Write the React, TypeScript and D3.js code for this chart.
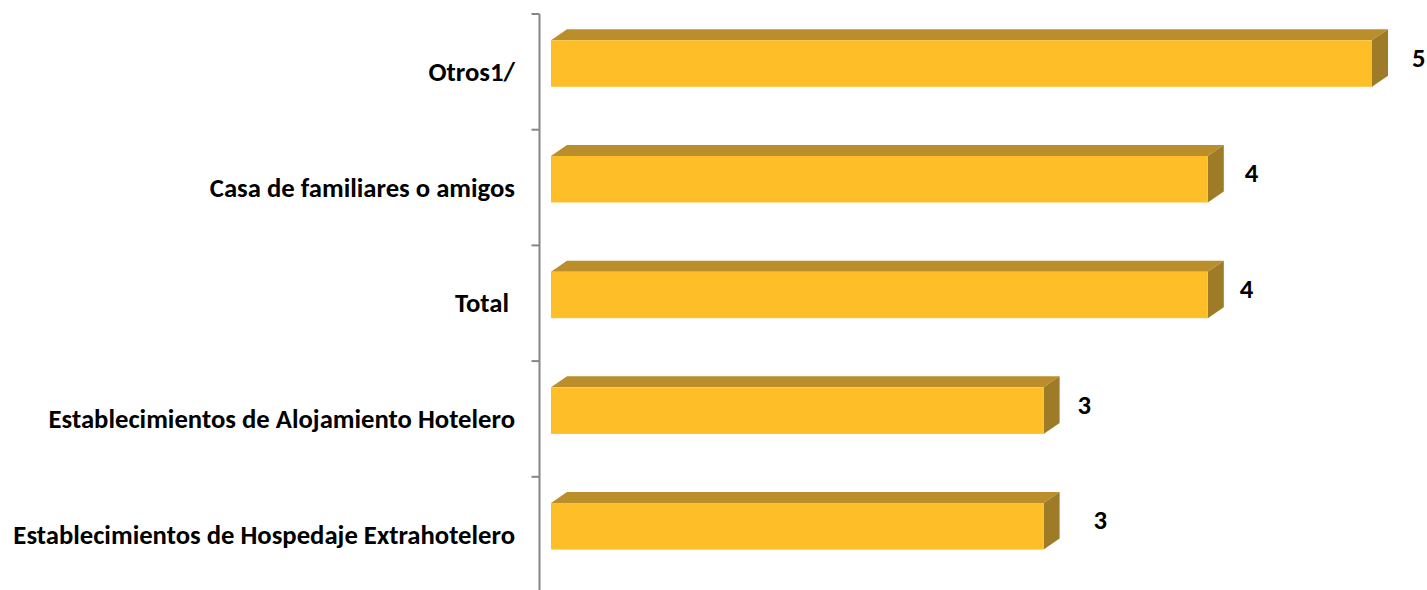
import React from "react";
import * as d3 from "d3";

const categories = [
  "Otros1/",
  "Casa de familiares o amigos",
  "Total ",
  "Establecimientos de Alojamiento Hotelero",
  "Establecimientos de Hospedaje Extrahotelero",
];
const values = [5, 4, 4, 3, 3];
const valueLabels = ["5", "4", "4", "3", "3"];

// layout nudges for the value labels (as placed in the original)
const labelDx = [24, 21, 16, 18, 34];

const W = 1427;
const H = 590;
const FONT = "Carlito, Calibri, 'Open Sans', sans-serif";
const FS = 26.7;

export default function App() {
  const x = d3.scaleLinear().domain([0, 5]).range([551, 1372]);
  const y = d3
    .scaleBand<string>()
    .domain(categories)
    .range([14, 14 + 5 * 115.7])
    .padding(0);
  const bw = y.bandwidth();
  const dx = 16;
  const dy = 11;
  const axisX = 539.5;

  return (
    <svg
      width={W}
      height={H}
      style={{ position: "absolute", left: 0, top: 0, background: "#fff" }}
    >
      {/* axis */}
      <line x1={axisX} x2={axisX} y1={14} y2={H + 10} stroke="#868686" strokeWidth={2} />
      {categories.map((c, i) => (
        <line
          key={"t" + i}
          x1={axisX - 8}
          x2={axisX}
          y1={(y(c) as number)}
          y2={(y(c) as number)}
          stroke="#868686"
          strokeWidth={2}
        />
      ))}
      {categories.map((c, i) => {
        const y0 = (y(c) as number) + bw * 0.227;
        const h = bw * 0.402;
        const x0 = x(0);
        const x1 = x(values[i]);
        return (
          <g key={"b" + i}>
            <polygon
              points={`${x0},${y0} ${x0 + dx},${y0 - dy} ${x1 + dx},${y0 - dy} ${x1},${y0}`}
              fill="#BA8F2B"
            />
            <polygon
              points={`${x1},${y0} ${x1 + dx},${y0 - dy} ${x1 + dx},${y0 + h - dy} ${x1},${y0 + h}`}
              fill="#9E7B27"
            />
            <rect x={x0} y={y0} width={x1 - x0} height={h} fill="#FDBE27" />
            <text
              x={x1 + dx + labelDx[i]}
              y={y0 + h / 2 - 6}
              dominantBaseline="central"
              fontFamily={FONT}
              fontWeight="bold"
              fontSize={FS}
              fill="#000"
            >
              {valueLabels[i]}
            </text>
          </g>
        );
      })}
      {categories.map((c, i) => (
        <text
          key={"l" + i}
          x={515}
          y={(y(c) as number) + bw / 2}
          textAnchor="end"
          dominantBaseline="central"
          fontFamily={FONT}
          fontWeight="bold"
          fontSize={FS}
          fill="#000"
          style={{ whiteSpace: "pre" }}
        >
          {c}
        </text>
      ))}
    </svg>
  );
}
